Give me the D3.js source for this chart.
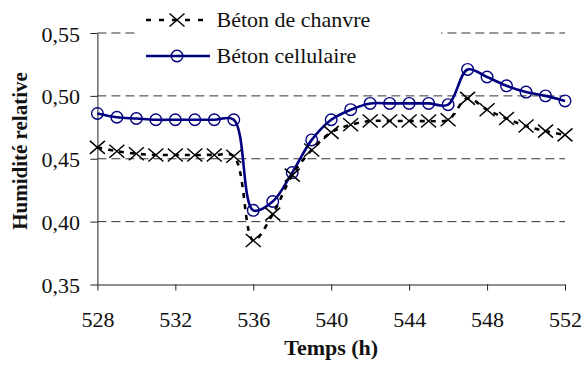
<!DOCTYPE html>
<html>
<head>
<meta charset="utf-8">
<script src="https://cdn.jsdelivr.net/npm/d3@7"></script>
<style>
  body { margin: 0; background: #fff; }
</style>
</head>
<body>
<svg id="chart" width="584" height="365"></svg>
<script>
// humidity relative, hourly, two concretes

let width = 584, height = 365

var hours = [528, 529, 530, 531, 532, 533, 534, 535, 536, 537, 538, 539, 540,
             541, 542, 543, 544, 545, 546, 547, 548, 549, 550, 551, 552]

var chanvre = [0.459, 0.456, 0.454, 0.453, 0.453, 0.453, 0.453, 0.452, 0.385, 0.406, 0.437, 0.457, 0.471,
               0.477, 0.480, 0.480, 0.480, 0.480, 0.481, 0.498, 0.489, 0.482, 0.476, 0.472, 0.469]

var cellulaire = [0.486, 0.483, 0.482, 0.481, 0.481, 0.481, 0.481, 0.481, 0.409, 0.416, 0.439, 0.465, 0.481,
                  0.489, 0.494, 0.494, 0.494, 0.494, 0.493, 0.521, 0.515, 0.508, 0.503, 0.500, 0.496]

var xTicks = [528, 532, 536, 540, 544, 548, 552]
var yTicks = [0.35, 0.40, 0.45, 0.50, 0.55]
var seriesNames = ['Béton de chanvre', 'Béton cellulaire']

let font = '"Liberation Serif", Tinos, serif'
let sx = 1.1   // the picture is a bit stretched sideways
let fr = d3.formatLocale({decimal: ',', thousands: ' ', grouping: [3], currency: ['', '']}).format('.2f')

var svg = d3.select('#chart')

var x = d3.scaleLinear().domain([528, 552]).range([97.4, 565])
var y = d3.scaleLinear().domain([0.35, 0.55]).range([284.5, 33])

// dashed grid lines
svg.append('g')
    .selectAll('line')
    .data(yTicks.slice(1))
    .enter()
    .append('line')
    .attr('x1', x(528))
    .attr('x2', x(552))
    .attr('y1', d => y(d))
    .attr('y2', d => y(d))
    .attr('stroke', '#333')
    .attr('stroke-width', 1)
    .attr('stroke-dasharray', '9,5')

// axes
var yAxis = svg.append('g')
    .attr('transform', `translate(${x(528)},0)`)
    .call(d3.axisLeft(y).tickValues(yTicks).tickFormat(fr).tickSize(7).tickSizeOuter(0))
    .attr('font-family', font)
    .attr('font-size', 20)
yAxis.select('.domain').attr('stroke', '#222')
yAxis.selectAll('line').attr('stroke', '#222')
yAxis.selectAll('text')
    .attr('x', -15.8)
    .attr('dy', '0.4em')
    .attr('transform', `scale(${sx},1)`)
    .attr('fill', '#111')

var xAxis = svg.append('g')
    .attr('transform', `translate(0,${y(0.35)})`)
    .call(d3.axisBottom(x).tickValues(xTicks).tickFormat(d3.format('d')).tickSize(6).tickSizeOuter(0))
    .attr('font-family', font)
    .attr('font-size', 20)
xAxis.select('.domain').attr('stroke', '#222')
xAxis.selectAll('line').attr('stroke', '#222')
xAxis.selectAll('text')
    .attr('y', 42.5)
    .attr('dy', 0)
    .attr('transform', `scale(${sx},1)`)
    .attr('fill', '#111')

// axis titles
svg.append('text')
    .attr('transform', `translate(${(x(528) + x(552)) / 2},355) scale(${sx},1)`)
    .attr('text-anchor', 'middle')
    .attr('font-family', font)
    .attr('font-size', 20)
    .attr('font-weight', 'bold')
    .attr('fill', '#111')
    .text('Temps (h)')

svg.append('text')
    .attr('transform', 'translate(27,151) rotate(-90)')
    .attr('text-anchor', 'middle')
    .attr('font-family', font)
    .attr('font-size', 21)
    .attr('font-weight', 'bold')
    .attr('fill', '#111')
    .text('Humidité relative')

// smoothed lines, centripetal so the drop at 536 does not overshoot much
var line = d3.line()
    .x(d => x(d[0]))
    .y(d => y(d[1]))
    .curve(d3.curveCatmullRom.alpha(0.5))

var ptsChanvre = hours.map((h, i) => [h, chanvre[i]])
var ptsCell = hours.map((h, i) => [h, cellulaire[i]])

svg.append('path')
    .datum(ptsCell)
    .attr('d', line)
    .attr('fill', 'none')
    .attr('stroke', '#000080')
    .attr('stroke-width', 2.6)

svg.append('g')
    .selectAll('circle')
    .data(ptsCell)
    .enter()
    .append('circle')
    .attr('cx', d => x(d[0]))
    .attr('cy', d => y(d[1]))
    .attr('r', 5.8)
    .attr('fill', 'none')
    .attr('stroke', '#000080')
    .attr('stroke-width', 1.4)

svg.append('path')
    .datum(ptsChanvre)
    .attr('d', line)
    .attr('fill', 'none')
    .attr('stroke', '#000')
    .attr('stroke-width', 2.6)
    .attr('stroke-dasharray', '5,6')

function cross(g, cx, cy) {
    g.append('path')
        .attr('d', `M${cx - 7.5},${cy - 6.5}L${cx + 7.5},${cy + 6.5}M${cx - 7.5},${cy + 6.5}L${cx + 7.5},${cy - 6.5}`)
        .attr('stroke', '#000')
        .attr('stroke-width', 1.5)
        .attr('fill', 'none')
}

var crosses = svg.append('g')
ptsChanvre.forEach(d => cross(crosses, x(d[0]), y(d[1])))

// legend with white box hiding the top grid line
var legend = svg.append('g')
legend.append('rect')
    .attr('x', 138).attr('y', 2)
    .attr('width', 303).attr('height', 72)
    .attr('fill', '#fff')

legend.append('line')
    .attr('x1', 146).attr('x2', 210)
    .attr('y1', 20).attr('y2', 20)
    .attr('stroke', '#000')
    .attr('stroke-width', 2.6)
    .attr('stroke-dasharray', '5,8')
cross(legend, 177, 20)

legend.append('line')
    .attr('x1', 146).attr('x2', 210)
    .attr('y1', 56).attr('y2', 56)
    .attr('stroke', '#000080')
    .attr('stroke-width', 2.6)
legend.append('circle')
    .attr('cx', 177).attr('cy', 56).attr('r', 5.8)
    .attr('fill', 'none')
    .attr('stroke', '#000080')
    .attr('stroke-width', 1.4)

legend.selectAll('text')
    .data(seriesNames)
    .enter()
    .append('text')
    .attr('transform', (d, i) => `translate(216.5,${27 + i * 35.5}) scale(${sx},1)`)
    .attr('font-family', font)
    .attr('font-size', 20)
    .attr('fill', '#111')
    .text(d => d)
</script>
</body>
</html>
